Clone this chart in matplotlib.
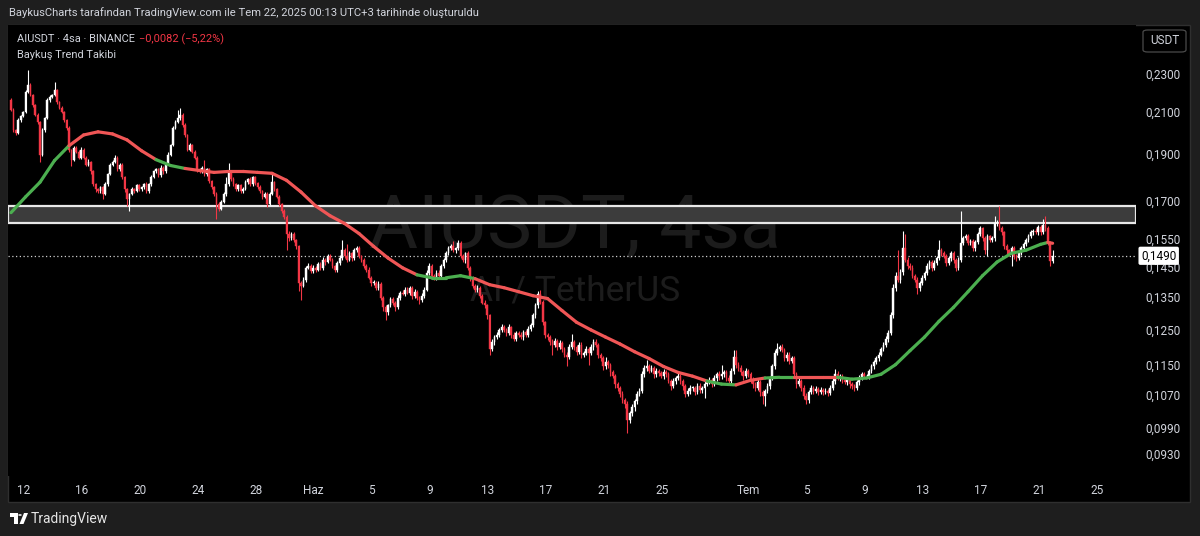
import numpy as np
import pandas as pd
import matplotlib
matplotlib.use("Agg")
import matplotlib.pyplot as plt
import matplotlib.dates as mdates
from matplotlib.patches import Rectangle, FancyBboxPatch, Polygon, Circle
from matplotlib.collections import LineCollection

# ---------------- data ----------------
start_time = "2025-05-11 03:00"          # first 4h candle (UTC+3)
first_open = 2158                        # price x 1e4
closes = [
    2108, 2010, 1996, 2058, 2078, 2098,
    2200, 2237, 2184, 2133, 2083, 2049,
    1895, 2010, 2068, 2158, 2174, 2184,
    2210, 2148, 2118, 2098, 2058, 2020,
    1918, 1873, 1927, 1909, 1882, 1918,
    1882, 1851, 1864, 1821, 1766, 1746,
    1738, 1754, 1726, 1766, 1808, 1851,
    1864, 1882, 1830, 1851, 1796, 1746,
    1706, 1726, 1746, 1738, 1762, 1746,
    1754, 1766, 1738, 1766, 1796, 1821,
    1830, 1804, 1838, 1821, 1851, 1895,
    1940, 2020, 2049, 2068, 2083, 2034,
    1986, 1918, 1940, 1909, 1882, 1830,
    1821, 1838, 1808, 1830, 1779, 1754,
    1726, 1686, 1666, 1694, 1726, 1766,
    1821, 1787, 1766, 1746, 1762, 1738,
    1746, 1775, 1787, 1766, 1796, 1771,
    1754, 1738, 1714, 1726, 1686, 1726,
    1775, 1746, 1714, 1686, 1658, 1635,
    1571, 1553, 1568, 1546, 1524, 1397,
    1388, 1407, 1448, 1454, 1437, 1448,
    1441, 1461, 1448, 1475, 1468, 1489,
    1475, 1454, 1441, 1464, 1482, 1510,
    1489, 1475, 1499, 1482, 1510, 1517,
    1489, 1475, 1454, 1441, 1414, 1397,
    1397, 1381, 1394, 1349, 1318, 1302,
    1324, 1343, 1333, 1318, 1349, 1365,
    1362, 1375, 1365, 1381, 1355, 1368,
    1349, 1340, 1355, 1375, 1431, 1454,
    1421, 1414, 1431, 1421, 1454, 1475,
    1499, 1517, 1524, 1510, 1517, 1535,
    1489, 1475, 1499, 1448, 1414, 1388,
    1375, 1381, 1355, 1333, 1324, 1293,
    1194, 1214, 1228, 1234, 1249, 1257,
    1249, 1240, 1257, 1234, 1223, 1240,
    1234, 1228, 1243, 1234, 1252, 1263,
    1293, 1324, 1362, 1336, 1272, 1234,
    1228, 1214, 1206, 1217, 1200, 1211,
    1194, 1178, 1172, 1200, 1214, 1200,
    1186, 1206, 1178, 1183, 1194, 1183,
    1200, 1214, 1206, 1178, 1167, 1145,
    1158, 1150, 1129, 1119, 1098, 1088,
    1073, 1058, 1048, 1008, 1024, 1039,
    1055, 1073, 1080, 1124, 1140, 1145,
    1134, 1140, 1124, 1132, 1127, 1119,
    1129, 1124, 1106, 1093, 1106, 1114,
    1119, 1106, 1093, 1073, 1080, 1088,
    1088, 1078, 1093, 1083, 1088, 1098,
    1103, 1108, 1098, 1114, 1124, 1119,
    1124, 1129, 1114, 1106, 1132, 1172,
    1150, 1140, 1129, 1119, 1132, 1124,
    1108, 1098, 1088, 1103, 1078, 1068,
    1080, 1093, 1114, 1145, 1183, 1194,
    1200, 1192, 1167, 1178, 1161, 1167,
    1124, 1098, 1106, 1088, 1068, 1058,
    1078, 1088, 1080, 1085, 1078, 1083,
    1078, 1080, 1075, 1088, 1106, 1124,
    1114, 1119, 1108, 1103, 1108, 1098,
    1093, 1088, 1103, 1114, 1124, 1119,
    1119, 1132, 1145, 1158, 1167, 1178,
    1194, 1206, 1223, 1240, 1293, 1381,
    1421, 1407, 1434, 1517, 1475, 1454,
    1448, 1421, 1407, 1381, 1397, 1414,
    1431, 1454, 1468, 1448, 1464, 1482,
    1510, 1499, 1489, 1464, 1482, 1499,
    1475, 1448, 1475, 1535, 1553, 1560,
    1535, 1542, 1517, 1538, 1568, 1590,
    1553, 1510, 1560, 1546, 1553, 1609,
    1612, 1590, 1575, 1524, 1510, 1496,
    1517, 1489, 1482, 1499, 1517, 1531,
    1546, 1560, 1575, 1582, 1575, 1597,
    1575, 1605, 1590, 1538, 1471, 1490,
]
wick_up = [
    10, 8, 6, 12, 5, 7,   12, 80, 10, 8, 6, 9,   5, 8, 6, 10, 12, 7,
    43, 8, 6, 10, 5, 7,   7, 5, 9, 6, 8, 10,    6, 8, 10, 5, 7, 4,
    5, 7, 4, 9, 6, 8,     9, 13, 6, 8, 5, 7,    4, 6, 8, 5, 7, 6,
    6, 5, 8, 7, 9, 6,     8, 6, 9, 5, 7, 10,    6, 9, 8, 40, 35, 10,
    8, 6, 10, 5, 7, 6,    6, 8, 35, 7, 5, 6,    5, 7, 6, 8, 9, 30,
    39, 6, 8, 5, 7, 6,    7, 9, 6, 8, 5, 7,     6, 8, 5, 9, 7, 10,
    42, 6, 5, 7, 4, 6,    6, 8, 10, 7, 6, 5,    6, 8, 7, 9, 6, 8,
    7, 6, 8, 10, 6, 9,    6, 8, 5, 7, 9, 36,    8, 42, 7, 6, 9, 8,
    7, 5, 8, 6, 9, 6,     8, 6, 9, 7, 5, 8,     6, 8, 7, 5, 9, 6,
    8, 7, 9, 6, 5, 8,     6, 5, 8, 7, 9, 10,    7, 6, 8, 9, 6, 8,
    8, 7, 9, 18, 6, 11,   7, 9, 6, 8, 5, 7,     6, 8, 5, 7, 9, 6,
    5, 7, 6, 8, 7, 9,     7, 6, 9, 5, 8, 6,     6, 8, 7, 6, 9, 8,
    8, 9, 7, 13, 6, 5,    6, 5, 7, 8, 6, 9,     7, 5, 6, 8, 23, 6,
    6, 9, 7, 6, 8, 5,     8, 7, 9, 6, 5, 7,     14, 6, 5, 7, 6, 5,
    5, 6, 4, 7, 6, 8,     6, 8, 7, 9, 8, 19,    7, 9, 6, 8, 5, 7,
    8, 6, 7, 5, 9, 6,     9, 7, 5, 6, 8, 7,     6, 5, 8, 7, 6, 9,
    7, 8, 6, 9, 7, 8,     26, 7, 6, 8, 9, 20,   20, 6, 8, 7, 9, 6,
    6, 8, 5, 9, 7, 6,     5, 7, 6, 8, 9, 17,    6, 7, 5, 8, 6, 7,
    7, 6, 9, 5, 8, 6,     6, 8, 5, 7, 6, 8,     5, 7, 6, 8, 7, 13,
    8, 6, 7, 9, 5, 6,     6, 5, 7, 8, 6, 7,     7, 6, 8, 5, 7, 6,
    6, 8, 7, 9, 10, 12,   14, 89, 10, 65, 51, 12, 9, 8, 7, 10, 6, 8,
    7, 9, 8, 6, 10, 8,    36, 8, 7, 9, 6, 8,    8, 7, 9, 123, 10, 8,
    9, 7, 8, 10, 8, 9,    7, 9, 8, 7, 10, 30,   9, 66, 8, 7, 9, 6,
    8, 7, 9, 6, 8, 9,     9, 8, 10, 7, 9, 8,    8, 23, 34, 9, 6, 20,
]
wick_dn = [
    6, 10, 12, 5, 8, 4,   5, 7, 4, 9, 6, 12,    31, 6, 8, 4, 9, 5,
    6, 9, 5, 7, 10, 8,    10, 30, 6, 8, 5, 7,   8, 6, 5, 9, 7, 12,
    10, 6, 20, 5, 7, 4,   5, 8, 7, 6, 9, 10,    28, 48, 6, 8, 5, 7,
    7, 9, 6, 8, 5, 4,     5, 8, 6, 9, 7, 4,     5, 4, 7, 6, 8, 9,
    9, 7, 5, 8, 6, 10,    8, 5, 7, 6, 9, 8,     7, 58, 9, 6, 5, 8,
    6, 8, 5, 9, 7, 8,     10, 5, 7, 6, 8, 6,    7, 6, 9, 5, 12, 6,
    5, 8, 6, 9, 7, 10,    61, 9, 7, 8, 10, 26,  48, 6, 8, 5, 7, 6,
    8, 5, 7, 6, 9, 5,     5, 7, 9, 6, 5, 8,     6, 8, 5, 9, 7, 6,
    6, 8, 7, 9, 5, 10,    7, 9, 6, 8, 10, 24,   9, 5, 8, 10, 6, 7,
    6, 8, 5, 7, 9, 6,     8, 10, 6, 7, 5, 8,    9, 7, 6, 8, 7, 5,
    6, 5, 8, 7, 9, 6,     8, 6, 9, 7, 10, 8,    9, 7, 8, 6, 7, 10,
    16, 6, 8, 5, 7, 6,    6, 8, 5, 9, 7, 6,     7, 6, 8, 5, 6, 7,
    6, 7, 8, 6, 9, 10,    8, 10, 28, 6, 9, 7,   9, 8, 27, 6, 7, 8,
    8, 6, 9, 7, 6, 33,    6, 8, 7, 9, 8, 10,    7, 8, 9, 6, 10, 8,
    9, 8, 10, 30, 7, 6,   10, 7, 6, 5, 8, 6,    6, 5, 9, 7, 8, 6,
    7, 8, 6, 9, 5, 7,     6, 8, 9, 7, 6, 8,     8, 7, 6, 9, 7, 25,
    6, 5, 8, 6, 7, 9,     7, 6, 9, 5, 8, 6,     8, 7, 6, 9, 5, 7,
    7, 9, 8, 6, 10, 20,   25, 6, 7, 5, 8, 6,    5, 8, 7, 6, 9, 6,
    8, 9, 6, 8, 7, 10,    9, 6, 7, 5, 8, 6,     7, 6, 8, 5, 6, 7,
    6, 8, 7, 6, 8, 9,     8, 9, 6, 7, 5, 6,     6, 8, 5, 7, 6, 8,
    5, 7, 6, 8, 6, 9,     10, 8, 9, 12, 7, 10,  7, 9, 8, 19, 10, 6,
    8, 6, 9, 10, 7, 6,    7, 9, 8, 10, 7, 9,    9, 10, 7, 6, 8, 7,
    8, 7, 10, 9, 6, 8,    10, 12, 21, 8, 7, 9,  8, 7, 9, 10, 12, 8,
    42, 10, 11, 8, 7, 6,  7, 8, 6, 9, 7, 8,     9, 7, 8, 10, 17, 6,
]
# trend-following average ("Baykus Trend Takibi"), sampled at candle indices
ma_candle_idx = [i * 6 for i in range(72)] + [429, 431]
ma_values = [
    1651, 1714, 1775, 1869, 1936, 1986, 2001, 1991, 1963, 1913,
    1873, 1847, 1834, 1825, 1817, 1821, 1821, 1817, 1813, 1783,
    1734, 1678, 1639, 1609, 1571, 1524, 1482, 1448, 1424, 1414,
    1414, 1421, 1411, 1391, 1381, 1368, 1355, 1346, 1308, 1272,
    1249, 1228, 1208, 1186, 1167, 1145, 1129, 1119, 1106, 1098,
    1096, 1108, 1114, 1116, 1116, 1116, 1116, 1116, 1111, 1114,
    1124, 1150, 1189, 1228, 1275, 1318, 1368, 1421, 1468, 1499,
    1510, 1531, 1538, 1535,
]
# 1 = bullish (green) segment, 0 = bearish (red) segment
ma_trend = [
    1, 1, 1, 1, 0, 0, 0, 0, 0, 0, 1, 1, 0, 0, 0, 0, 0, 0, 0, 0,
    0, 0, 0, 0, 0, 0, 0, 0, 1, 1, 1, 1, 0, 0, 0, 0, 0, 0, 0, 0,
    0, 0, 0, 0, 0, 0, 0, 0, 1, 1, 0, 0, 1, 1, 0, 0, 0, 1, 1, 1,
    1, 1, 1, 1, 1, 1, 1, 1, 1, 1, 1, 1, 0,
]
zone_low, zone_high = 0.1612, 0.1678
last_price = 0.1490
price_ticks = [0.2300, 0.2100, 0.1900, 0.1700, 0.1550, 0.1450,
               0.1350, 0.1250, 0.1150, 0.1070, 0.0990, 0.0930]
price_tick_labels = ["0,2300", "0,2100", "0,1900", "0,1700", "0,1550", "0,1450",
                     "0,1350", "0,1250", "0,1150", "0,1070", "0,0990", "0,0930"]
time_tick_dates = ["2025-05-12", "2025-05-16", "2025-05-20", "2025-05-24", "2025-05-28",
                   "2025-06-01", "2025-06-05", "2025-06-09", "2025-06-13", "2025-06-17",
                   "2025-06-21", "2025-06-25", "2025-07-01", "2025-07-05", "2025-07-09",
                   "2025-07-13", "2025-07-17", "2025-07-21", "2025-07-25"]
time_tick_labels = ["12", "16", "20", "24", "28", "Haz", "5", "9", "13", "17",
                    "21", "25", "Tem", "5", "9", "13", "17", "21", "25"]

# ---------------- style ----------------
W, H = 1200, 536
BG = "#1e1e1e"
PANEL = "#000000"
UP = "#ffffff"
DN = "#f23645"
MA_UP = "#4caf50"
MA_DN = "#f05656"
TXT = "#d1d4dc"
FONT = ["Liberation Sans Narrow", "Roboto", "DejaVu Sans"]
plt.rcParams["font.family"] = FONT

def fx(x):
    return x / W

def fy(y):
    return 1 - y / H

fig = plt.figure(figsize=(W / 100, H / 100), dpi=100, facecolor=BG)

# chart panel
fig.patches.append(Rectangle((fx(8), fy(502)), fx(1190) - fx(8), fy(25) - fy(502),
                             transform=fig.transFigure, facecolor=PANEL,
                             edgecolor="#2f2f2f", linewidth=1.0, zorder=-5))

ax = fig.add_axes([fx(8), fy(476), fx(1136) - fx(8), fy(25) - fy(476)])
ax.set_facecolor(PANEL)
for s in ax.spines.values():
    s.set_visible(False)
ax.set_yscale("log")

t = pd.date_range(start_time, periods=len(closes), freq="4h")
xs = mdates.date2num(t)
c = np.array(closes, dtype=float) / 1e4
o = np.r_[first_open / 1e4, c[:-1]]
hi = np.maximum(o, c) + np.array(wick_up) / 1e4
lo = np.minimum(o, c) - np.array(wick_dn) / 1e4
is_up = c >= o
cols = np.where(is_up, UP, DN)

day0 = mdates.date2num(pd.Timestamp("2025-05-12"))
ax.set_xlim(day0 - 1.083, day0 + 76.71)
ax.set_ylim(0.08824, 0.2580)

# watermark
ax.text(0.5027, 0.55, "AIUSDT, 4sa", transform=ax.transAxes, ha="center", va="center",
        fontsize=54, color="#1c1c1c", family=["Roboto", "DejaVu Sans"], zorder=0)
ax.text(0.5027, 0.41, "AI / TetherUS", transform=ax.transAxes, ha="center", va="center",
        fontsize=25.5, color="#1c1c1c", family=["Roboto", "DejaVu Sans"], zorder=0)

# zone
ax.axhspan(zone_low, zone_high, facecolor="#3c3c3c", edgecolor="#e8e8e8",
           linewidth=1.6, zorder=1)

# candles
ax.vlines(xs, lo, hi, colors=cols, linewidth=0.8, zorder=3)
body_h = np.maximum(np.abs(c - o), 0.00015)
ax.bar(xs, body_h, bottom=np.minimum(o, c), width=(4 / 24) * 0.7,
       color=cols, edgecolor=cols, linewidth=0.3, zorder=4)

# trend average line
mx = xs[np.array(ma_candle_idx)]
my = np.array(ma_values, dtype=float) / 1e4
segs = [[(mx[i], my[i]), (mx[i + 1], my[i + 1])] for i in range(len(mx) - 1)]
seg_cols = [MA_UP if v else MA_DN for v in ma_trend]
lc = LineCollection(segs, colors=seg_cols, linewidths=2.3, capstyle="round",
                    joinstyle="round", zorder=5)
ax.add_collection(lc)

# last price dotted line
ax.axhline(last_price, color="#cfcfcf", linestyle=(0, (1, 2)), linewidth=0.9, zorder=2)

# axes ticks
ax.yaxis.tick_right()
ax.set_yticks(price_ticks)
ax.set_yticklabels(price_tick_labels)
ax.yaxis.set_minor_locator(matplotlib.ticker.NullLocator())
ax.set_xticks(mdates.date2num(pd.to_datetime(time_tick_dates)))
ax.set_xticklabels(time_tick_labels)
ax.tick_params(axis="y", length=0, pad=6.5, labelsize=8.5, labelcolor=TXT)
ax.tick_params(axis="x", length=0, pad=5.5, labelsize=8.5, labelcolor=TXT)

# last price label
ax.text(1.0045, last_price, "0,1490", transform=ax.get_yaxis_transform(),
        ha="left", va="center", fontsize=8.5, color="#000000", clip_on=False, zorder=10,
        bbox=dict(boxstyle="round,pad=0.22,rounding_size=0.15", fc="#ffffff", ec="none"))

# header
fig.text(fx(9), fy(13), "BaykusCharts tarafından TradingView.com ile Tem 22, 2025 00:13 UTC+3 tarihinde oluşturuldu",
         ha="left", va="center", fontsize=8.1, color=TXT)
fig.text(fx(17), fy(39), "AIUSDT · 4sa · BINANCE", ha="left", va="center",
         fontsize=7.9, color=TXT)
fig.text(fx(139), fy(39), "−0,0082 (−5,22%)", ha="left", va="center",
         fontsize=7.9, color=DN)
fig.text(fx(17), fy(55), "Baykuş Trend Takibi", ha="left", va="center",
         fontsize=7.9, color=TXT)

# USDT button
fig.patches.append(FancyBboxPatch((fx(1143), fy(52)), fx(1186) - fx(1143), fy(30) - fy(52),
                                  boxstyle="round,pad=0,rounding_size=0.004",
                                  transform=fig.transFigure, facecolor="#000000",
                                  edgecolor="#4a4a4a", linewidth=0.9, zorder=5))
fig.text(fx(1164.5), fy(41), "USDT", ha="center", va="center", fontsize=8.5, color=TXT, zorder=6)

# TradingView footer logo
fig.patches.append(Polygon([(fx(10), fy(513)), (fx(17.5), fy(513)), (fx(17.5), fy(524)),
                            (fx(14), fy(524)), (fx(14), fy(516.5)), (fx(10), fy(516.5))],
                           closed=True, transform=fig.transFigure, facecolor="#ffffff", edgecolor="none"))
fig.patches.append(Circle((fx(20), fy(515)), 1.8 / W, transform=fig.transFigure,
                          facecolor="#ffffff", edgecolor="none"))
fig.patches.append(Polygon([(fx(19.5), fy(524)), (fx(23.5), fy(524)), (fx(28), fy(513)),
                            (fx(24), fy(513))], closed=True, transform=fig.transFigure,
                           facecolor="#ffffff", edgecolor="none"))
fig.text(fx(31), fy(519), "TradingView", ha="left", va="center", fontsize=10,
         color="#e6e6e6")

fig.savefig("out.png", dpi=100, facecolor=BG)
